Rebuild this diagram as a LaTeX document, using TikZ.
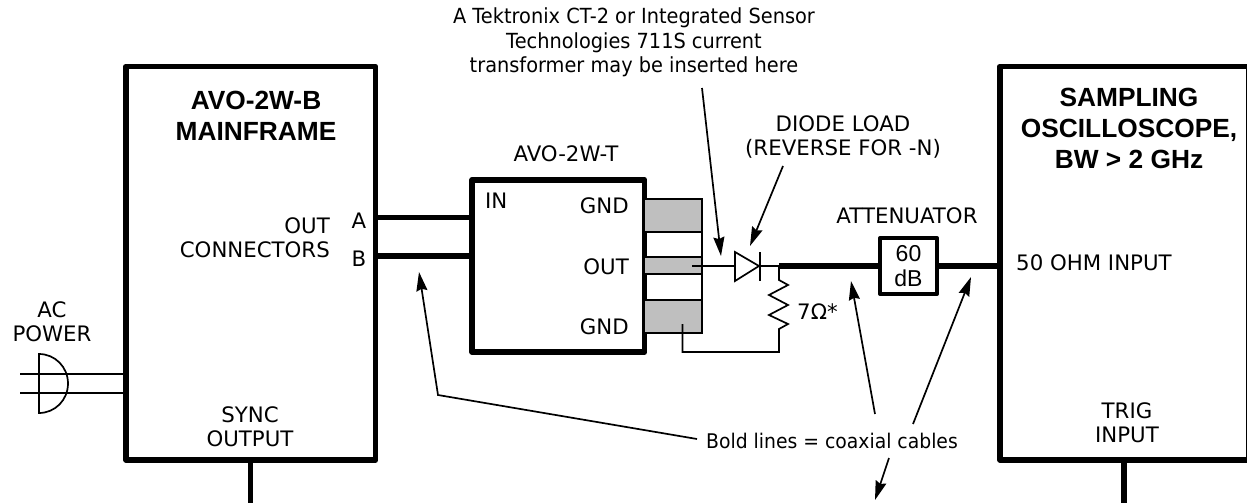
\documentclass[tikz,border=0pt]{standalone}
\usepackage{fontspec}
\setmainfont{DejaVu Sans}
\newfontfamily\headfont{Liberation Sans}
\newfontfamily\remarkfont[FakeStretch=0.93]{DejaVu Sans}
\usetikzlibrary{arrows.meta}
\tikzset{
    box/.style={draw=black, line width=5.8pt, line join=round, inner sep=0pt, outer sep=0pt},
    coax/.style={black, line width=5.8pt},
    wire/.style={black, line width=1.7pt},
    note/.style={black, line width=1.7pt, -{Stealth[length=19pt, width=11pt, inset=2pt]}},
    lbl/.style={font=\fontsize{21.3}{24}\selectfont, inner sep=0pt, align=center},
    remark/.style={font=\remarkfont\fontsize{20.8}{24.5}\selectfont, inner sep=0pt, align=center},
    head/.style={font=\headfont\bfseries\fontsize{26.3}{31}\selectfont, inner sep=0pt, align=center},
}
\begin{document}
\begin{tikzpicture}[x=1pt, y=-1pt]
    \useasboundingbox (0,0) rectangle (1247,503);

    % Cajas
    \node[box, minimum width=249.5pt, minimum height=393.5pt] (mainframe) at (250.75,263.25) {};
    \node[box, minimum width=172.5pt, minimum height=172pt] (tbox) at (558.25,266) {};
    \node[box, minimum width=249pt, minimum height=393.5pt] (scope) at (1124.5,263.25) {};
    \node[draw=black, line width=4pt, line join=round, minimum width=57pt, minimum height=56pt, inner sep=0pt, outer sep=0pt,
        font=\headfont\fontsize{23}{25}\selectfont, align=center] (atten) at (908.5,266) {60\\dB};

    % Salidas de la caja T
    \filldraw[wire, fill=black!25] (tbox.east |- 0,199) rectangle (702,232);
    \filldraw[wire, fill=black!25] (tbox.east |- 0,257) rectangle (702,274);
    \filldraw[wire, fill=black!25] (tbox.east |- 0,300) rectangle (702,333);
    \draw[wire] (702,232) -- (702,300);

    % Puntos de conexion
    \coordinate (portA) at (378,217.5);
    \coordinate (portB) at (378,256);
    \coordinate (syncend) at (250.5,503);
    \coordinate (trigend) at (1124,503);
    \coordinate (outpin) at (692,266);
    \coordinate (gndpin) at (682.5,324);
    \coordinate (anode) at (735,266);
    \coordinate (cathode) at (760,266);
    \coordinate (junction) at (779,266);
    \coordinate (rtop) at (779,280);
    \coordinate (rbottom) at (779,329);
    \coordinate (gndcorner) at (779,352);

    % Cables coaxiales
    \draw[coax] (mainframe.east |- portA) -- (tbox.west |- portA);
    \draw[coax] (mainframe.east |- portB) -- (tbox.west |- portB);
    \draw[coax] (junction) -- (atten.west);
    \draw[coax] (atten.east) -- (scope.west |- atten.east);
    \draw[coax] (mainframe.south -| syncend) -- (syncend);
    \draw[coax] (scope.south -| trigend) -- (trigend);

    % Diodo
    \draw[wire] (outpin) -- (anode);
    \draw[wire, line join=miter] (735,252) -- (759,266) -- (735,281) -- cycle;
    \draw[wire] (760,252) -- (760,281);
    \draw[wire] (cathode) -- (junction);

    % Resistencia y retorno
    \draw[wire] (junction) -- (rtop) -- (788,285) -- (769,295) -- (788,305) -- (769,315) -- (788,324) -- (rbottom)
        -- (gndcorner) -- (gndcorner -| gndpin) -- (gndpin);

    % Enchufe
    \draw[wire] (39,354) .. controls (55,354) and (68,367) .. (68,383.5)
        .. controls (68,400) and (55,413) .. (39,413) -- cycle;
    \draw[wire] (20,374) -- (mainframe.west |- 0,374);
    \draw[wire] (20,393) -- (mainframe.west |- 0,393);

    % Textos
    \node[head] (mainlabel) at (256,116) {AVO-2W-B\\MAINFRAME};
    \node[head] (scopelabel) at (1129,128) {SAMPLING\\OSCILLOSCOPE,\\BW > 2 GHz};
    \node[lbl, align=right, anchor=east] (outlabel) at (330,237.5) {OUT\\CONNECTORS};
    \node[lbl] (alabel) at (359,221) {A};
    \node[lbl] (blabel) at (359,259) {B};
    \node[lbl] (aclabel) at (52,321.5) {AC\\POWER};
    \node[lbl] (synclabel) at (250,426.5) {SYNC\\OUTPUT};
    \node[remark] (ctnote) at (634,42.5) {A Tektronix CT-2 or Integrated Sensor\\Technologies 711S current\\transformer may be inserted here};
    \node[lbl] (tlabel) at (566,154) {AVO-2W-T};
    \node[lbl, anchor=west] (inlabel) at (485,201) {IN};
    \node[lbl, anchor=east] (gndtop) at (629,206) {GND};
    \node[lbl, anchor=east] (outmid) at (629,267) {OUT};
    \node[lbl, anchor=east] (gndbot) at (629,327) {GND};
    \node[lbl] (diodelabel) at (843,136.5) {DIODE LOAD\\(REVERSE FOR -N)};
    \node[lbl] (attenlabel) at (907,216) {ATTENUATOR};
    \node[lbl, anchor=west] (rlabel) at (797,312) {7Ω*};
    \node[lbl, anchor=west] (inputlabel) at (1016,263) {50 OHM INPUT};
    \node[lbl] (triglabel) at (1127,423) {TRIG\\INPUT};
    \node[remark, font=\remarkfont\fontsize{20.2}{24}\selectfont] (coaxlabel) at (832,441) {Bold lines = coaxial cables};

    % Flechas
    \coordinate (cttip) at (721,256);
    \coordinate (diodetip) at (750,246);
    \coordinate (coaxtipA) at (419,272);
    \coordinate (coaxtipB) at (851,281);
    \coordinate (coaxtipC) at (971,277);
    \coordinate (coaxtipD) at (875,500);
    \draw[note] (702,88) -- (cttip);
    \draw[note] (783,166) -- (diodetip);
    \draw[note] (697,439) -- (438,395) -- (coaxtipA);
    \draw[note] (875,414) -- (coaxtipB);
    \draw[note] (913,424) -- (coaxtipC);
    \draw[note] (889,458) -- (coaxtipD);
\end{tikzpicture}
\end{document}
